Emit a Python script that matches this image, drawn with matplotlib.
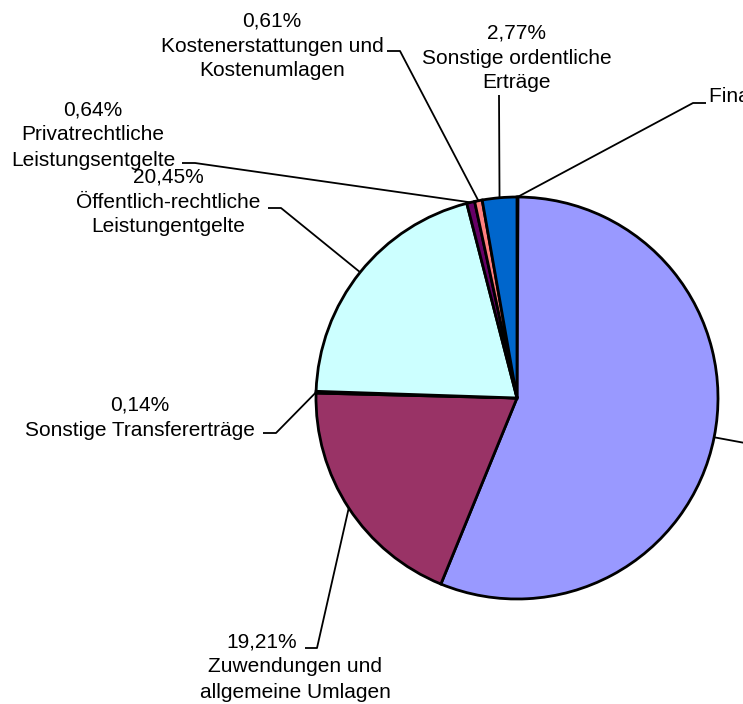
import numpy as np
import matplotlib
matplotlib.use("Agg")
import matplotlib.pyplot as plt

# slice data, clockwise from 12 o'clock
names = ["Finanzerträge", "Steuern und ähnliche Abgaben", "Zuwendungen und\nallgemeine Umlagen",
         "Sonstige Transfererträge", "Öffentlich-rechtliche\nLeistungentgelte",
         "Privatrechtliche\nLeistungsentgelte", "Kostenerstattungen und\nKostenumlagen",
         "Sonstige ordentliche\nErträge"]
values = [0.08, 56.10, 19.21, 0.14, 20.45, 0.64, 0.61, 2.77]
colors = ["#FFFFCC", "#9999FF", "#993366", "#FFFFCC", "#CCFFFF", "#660066", "#FF8080", "#0066CC"]

W, H = 743, 704
cx, cy, r = 517, 398, 201  # pixel coords (y down)

fig = plt.figure(figsize=(W / 100, H / 100), dpi=100)
ax = fig.add_axes([0, 0, 1, 1])

ax.pie(values, colors=colors, startangle=90, counterclock=False,
       center=(cx, H - cy), radius=r,
       wedgeprops=dict(edgecolor="black", linewidth=2))
ax.set_xlim(0, W)
ax.set_ylim(0, H)
ax.set_aspect("equal")
ax.axis("off")

# label layout: (align, x of text, y of first line, horizontal leader seg x0, x1, y)
layout = [
    ("left", 709, 97, 706, 693, 103),
    ("left", 760, 440, 745, 745, 443),
    (None, 295, 642, 305, 317, 648),
    (None, 140, 405, 263, 276, 433),
    (None, 168, 177, 268, 281, 208),
    (None, 93, 110, 182, 195, 163),
    (None, 272, 21, 387, 400, 51),
    (None, 517, 33, 499, 499, 95),
]

fs = 15
step = 25
total = sum(values)
cum = 0
for i, v in enumerate(values):
    mid = np.deg2rad(360 * (cum + v / 2) / total)
    cum += v
    ex, ey = cx + r * np.sin(mid), cy - r * np.cos(mid)
    ha, tx, ty, x0, x1, ly = layout[i]
    pct = f"{v:.2f}%".replace(".", ",")
    ax.plot([x0, x1, ex], [H - ly, H - ly, H - ey], color="black", lw=1.3,
            solid_capstyle="butt", clip_on=False)
    if ha == "left":
        ax.text(tx, H - ty, names[i].replace("\n", " ") + " " + pct, ha="left", va="center",
                fontsize=fs, family="Liberation Sans")
        continue
    lines = [pct] + names[i].split("\n")
    for k, s in enumerate(lines):
        x = tx
        if i == 2 and k == 0:
            x = 262
        ax.text(x, H - (ty + k * step), s, ha="center", va="center",
                fontsize=fs, family="Liberation Sans")

fig.savefig("out.png", dpi=100)
